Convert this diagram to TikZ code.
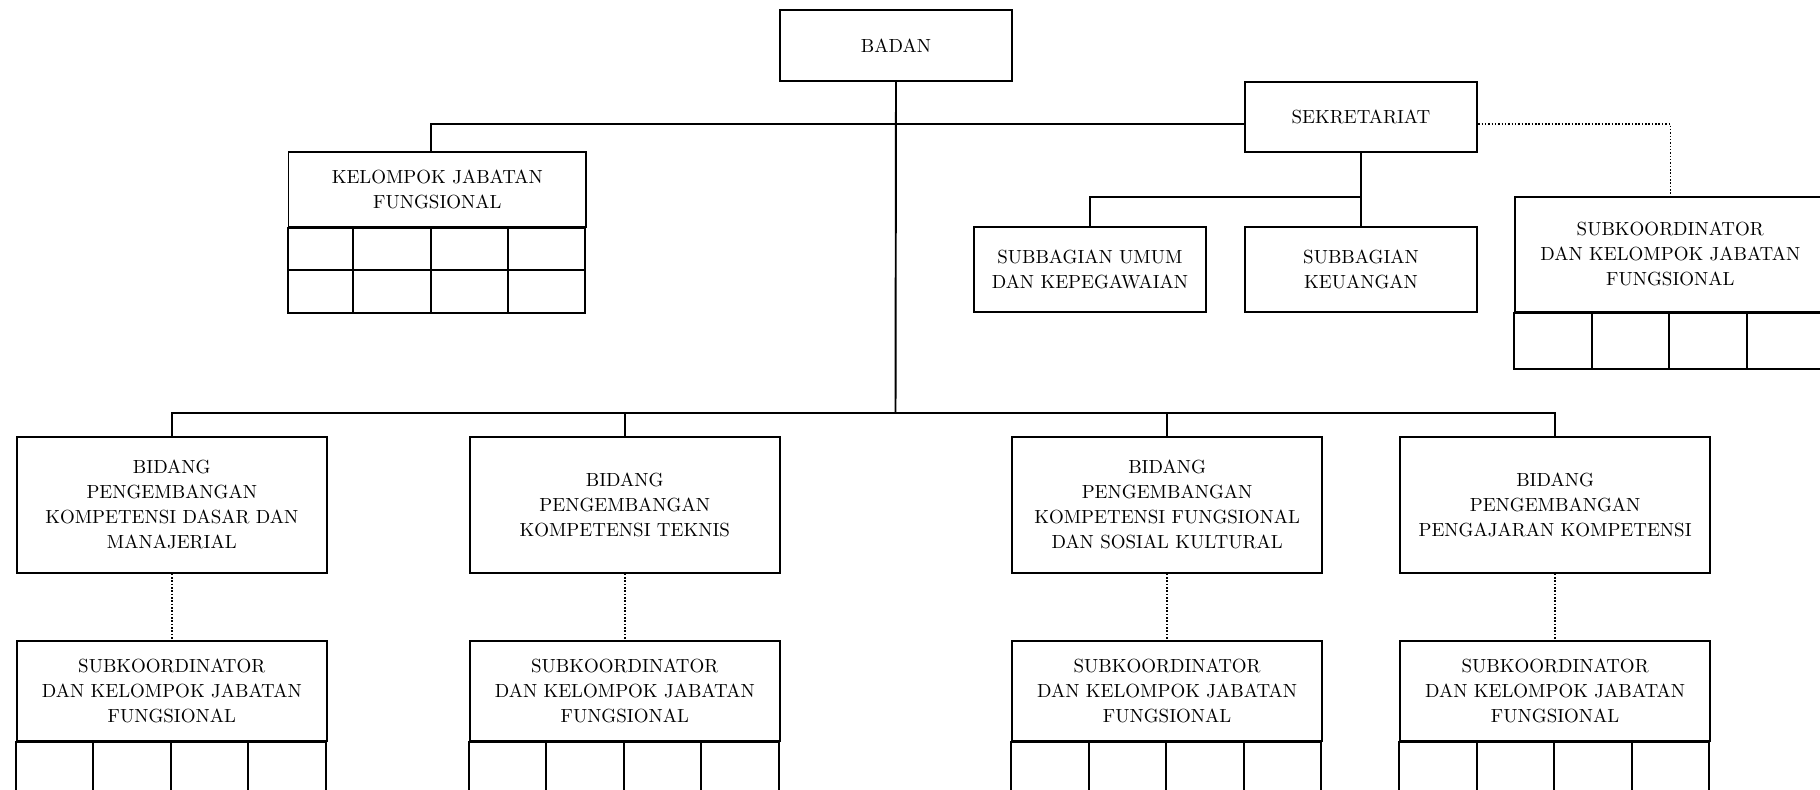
\documentclass[tikz,border=0pt]{standalone}

\begin{document}
\begin{tikzpicture}[
  box/.style={draw,line width=1.1pt,align=center,inner sep=0pt,
    font=\fontsize{10.8}{14.2}\selectfont},
  topbox/.style={box,minimum width=4.65cm,minimum height=1.43cm},
  subbox/.style={box,minimum width=4.64cm,minimum height=1.69cm},
  bidang/.style={box,minimum width=6.2cm,minimum height=2.72cm},
  jfbox/.style={box,minimum width=6.2cm,minimum height=2cm},
  link/.style={line width=1.1pt},
  dotlink/.style={densely dotted,line width=0.9pt}]
  \useasboundingbox (0,0) rectangle (36.4,-15.78);
  \clip (0,0) rectangle (36.4,-15.78);

  \coordinate (hub) at (17.91,-8.254);
  \coordinate (mainbar) at (0,-2.48);
  \coordinate (subbar) at (0,-3.94);

  % Top level and secretariat.
  \node[topbox] (badan) at (17.92,-0.907) {BADAN};
  \node[topbox,minimum height=1.4cm] (sekretariat) at (27.219,-2.334) {SEKRETARIAT};
  \node[box,minimum width=5.954cm,minimum height=1.5cm] (kjf) at (8.747,-3.784)
    {KELOMPOK JABATAN\\FUNGSIONAL};
  \node[subbox] (umum) at (21.798,-5.387) {SUBBAGIAN UMUM\\DAN KEPEGAWAIAN};
  \node[subbox] (keuangan) at (27.22,-5.387) {SUBBAGIAN\\KEUANGAN};
  \node[jfbox,minimum height=2.3cm] (jfsek) at (33.406,-5.084)
    {SUBKOORDINATOR\\DAN KELOMPOK JABATAN\\FUNGSIONAL};

  % The four fields.
  \node[bidang] (bidang1) at (3.436,-10.094)
    {BIDANG\\PENGEMBANGAN\\KOMPETENSI DASAR DAN\\MANAJERIAL};
  \node[bidang] (bidang2) at (12.495,-10.094)
    {BIDANG\\PENGEMBANGAN\\KOMPETENSI TEKNIS};
  \node[bidang] (bidang3) at (23.342,-10.094)
    {BIDANG\\PENGEMBANGAN\\KOMPETENSI FUNGSIONAL\\DAN SOSIAL KULTURAL};
  \node[bidang] (bidang4) at (31.102,-10.094)
    {BIDANG\\PENGEMBANGAN\\PENGAJARAN KOMPETENSI};

  \foreach \i/\x in {1/3.436,2/12.495,3/23.342,4/31.102}
    \node[jfbox] (jf\i) at (\x,-13.814)
      {SUBKOORDINATOR\\DAN KELOMPOK JABATAN\\FUNGSIONAL};

  % Empty cells under the functional groups.
  \draw[link] (kjf.south west) rectangle ++(5.954,-1.7);
  \draw[link] ([yshift=-0.85cm]kjf.south west) -- ++(5.954,0);
  \foreach \dx in {1.31,2.866,4.41}
    \draw[link] ([xshift=\dx cm]kjf.south west) -- ++(0,-1.7);
  \foreach \n in {jfsek,jf1,jf2,jf3,jf4} {
    \draw[link] (\n.south west) rectangle ++(6.2,-1.12);
    \foreach \dx in {1.55,3.1,4.65}
      \draw[link] ([xshift=\dx cm]\n.south west) -- ++(0,-1.12);
  }

  % Lines of command.
  \coordinate (kjftop) at ([xshift=2.866cm]kjf.north west);
  \draw[link] (badan.south) -- (hub);
  \draw[link] (kjftop) |- (sekretariat.west |- mainbar);
  \draw[link] (sekretariat.south) -- (keuangan.north);
  \draw[link] (sekretariat.south |- subbar) -| (umum.north);
  \draw[link] (bidang1.north) |- (hub) -| (bidang4.north);
  \draw[link] (bidang2.north) -- (bidang2.north |- hub);
  \draw[link] (bidang3.north) -- (bidang3.north |- hub);

  % Lines of coordination.
  \draw[dotlink] (sekretariat.east |- mainbar) -| (jfsek.north);
  \foreach \i in {1,...,4}
    \draw[dotlink] (bidang\i.south) -- (jf\i.north);
\end{tikzpicture}
\end{document}
